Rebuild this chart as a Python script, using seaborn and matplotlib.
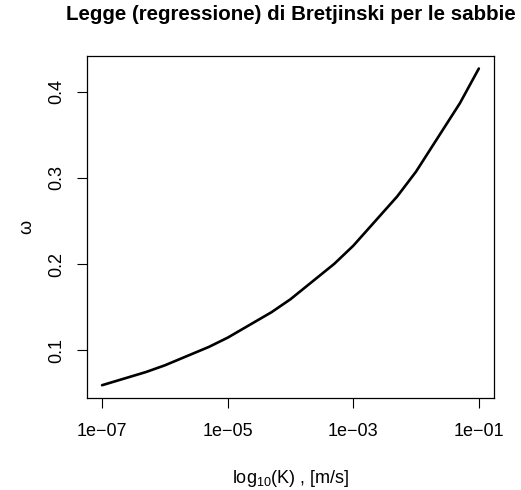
#!/usr/bin/env python3

import matplotlib
matplotlib.use("Agg")
import matplotlib.pyplot as plt
import seaborn as sns
import pandas as pd

# Bretjinski regression for sands: conductivity K [m/s] vs effective porosity omega
k_values = [1e-7, 5e-7, 1e-6, 5e-6, 1e-5, 5e-5, 1e-4, 5e-4, 1e-3, 5e-3, 1e-2, 5e-2, 1e-1]
omega_values = [0.0594, 0.0747, 0.0825, 0.1038, 0.1146, 0.1442, 0.1592,
                0.2004, 0.2213, 0.2785, 0.3074, 0.3869, 0.4271]
x_ticks = [1e-7, 1e-5, 1e-3, 1e-1]
x_tick_labels = ["1e\u221207", "1e\u221205", "1e\u221203", "1e\u221201"]
y_ticks = [0.1, 0.2, 0.3, 0.4]


def main():
    sns.set_style("ticks")
    plt.rcParams["font.family"] = ["Liberation Sans", "DejaVu Sans"]
    plt.rcParams["mathtext.default"] = "regular"
    plt.rcParams["text.color"] = "black"
    plt.rcParams["axes.labelcolor"] = "black"
    plt.rcParams["xtick.color"] = "black"
    plt.rcParams["ytick.color"] = "black"

    df = pd.DataFrame({"K": k_values, "omega": omega_values})

    fig = plt.figure(figsize=(5.21, 4.9), dpi=100)
    ax = fig.add_axes([0.167, 0.188, 0.781, 0.698])

    sns.lineplot(data=df, x="K", y="omega", color="black", linewidth=1.9, ax=ax)
    ax.set_xscale("log")
    ax.set_xlim(10 ** (-7 - 0.24), 10 ** (-1 + 0.24))
    lo, hi = min(omega_values), max(omega_values)
    pad = (hi - lo) * 0.04
    ax.set_ylim(lo - pad, hi + pad)

    ax.set_xticks(x_ticks)
    ax.set_xticklabels(x_tick_labels)
    ax.minorticks_off()
    ax.set_yticks(y_ticks)
    ax.set_yticklabels([f"{v:.1f}" for v in y_ticks], rotation=90, va="center")
    ax.tick_params(axis="both", length=7, width=0.8, labelsize=13, color="black")
    ax.tick_params(axis="x", pad=11)
    ax.tick_params(axis="y", pad=9)

    for s in ax.spines.values():
        s.set_visible(True)
        s.set_linewidth(0.9)
        s.set_color("black")

    ax.set_xlabel("log$_{10}$(K) , [m/s]", fontsize=13, labelpad=20)
    ax.set_ylabel("\u03c9", fontsize=13, labelpad=9)
    ax.set_title("Legge (regressione) di Bretjinski per le sabbie",
                 fontsize=14.8, fontweight="bold", pad=26)

    fig.savefig("out.png", dpi=100)
    plt.close(fig)


if __name__ == "__main__":
    main()
